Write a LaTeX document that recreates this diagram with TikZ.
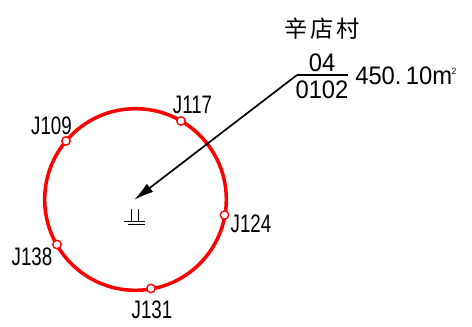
\documentclass[tikz,border=0pt]{standalone}
\usepackage{fontspec}
\setmainfont{Liberation Sans}
\newfontfamily\narrowfont[FakeStretch=0.74]{Liberation Sans}
\newfontfamily\figfont[FakeStretch=0.94]{Liberation Sans}
\newfontfamily\cjk{Noto Sans CJK SC}
\usetikzlibrary{arrows.meta, positioning}

\tikzset{
    pipe/.style={draw=red, line width=2.5pt, circle, inner sep=0pt, minimum size=4.54cm},
    junction/.style={draw=red, fill=white, line width=1pt, circle, inner sep=0pt, minimum size=0.21cm},
    label/.style={inner sep=0pt, font=\narrowfont\fontsize{18}{18}\selectfont},
    figure/.style={inner sep=0pt, font=\figfont\fontsize{18}{18}\selectfont},
    earth/.style={line width=0.7pt}
}

\begin{document}
\begin{tikzpicture}[x=0.025cm, y=-0.025cm]
    \useasboundingbox (0,0) rectangle (472,327);
    % ring and its junctions
    \node[pipe] (ring) at (135.5,199.5) {};
    \node[junction] (j117) at (181,121) {};
    \node[junction] (j109) at (66,141) {};
    \node[junction] (j124) at (224.5,215) {};
    \node[junction] (j138) at (57,244.5) {};
    \node[junction] (j131) at (151,288.5) {};
    \node[label] (l117) at (192.5,104.5) {J117};
    \node[label] (l109) at (51.5,126) {J109};
    \node[label] (l124) at (251,223.5) {J124};
    \node[label] (l138) at (32,257) {J138};
    \node[label] (l131) at (152,309.5) {J131};
    % parcel text
    \node[inner sep=0pt, font=\cjk\fontsize{16.5}{16.5}\selectfont] (village) at (322.5,29) {辛\hspace{0.12em}店\hspace{0.12em}村};
    \node[figure] (num) at (322,63) {04};
    \node[figure] (sub) at (322,90) {0102};
    \node[figure, anchor=west] (area) at (355,76) {450.\,10m\hspace{-0.02em}\raisebox{0.42em}{\fontsize{6.5}{6.5}\selectfont 2}};
    % leader
    \coordinate (bend) at (297,75);
    \coordinate (end) at (348,75);
    \coordinate (tip) at (134,200);
    \draw[line width=1.2pt] (end) -- (bend);
    \draw[line width=1.2pt, -{Latex[length=0.5cm, width=0.26cm]}] (bend) -- (tip);
    % earth symbol
    \coordinate (e1) at (131,209);
    \coordinate (e2) at (138.5,209);
    \coordinate (e3) at (124,221);
    \coordinate (e4) at (145,221);
    \coordinate (e5) at (128,224);
    \coordinate (e6) at (145,224);
    \draw[earth] (e1) -- (e1 |- e3);
    \draw[earth] (e2) -- (e2 |- e3);
    \draw[earth] (e3) -- (e4);
    \draw[earth] (e5) -- (e6);
\end{tikzpicture}
\end{document}
